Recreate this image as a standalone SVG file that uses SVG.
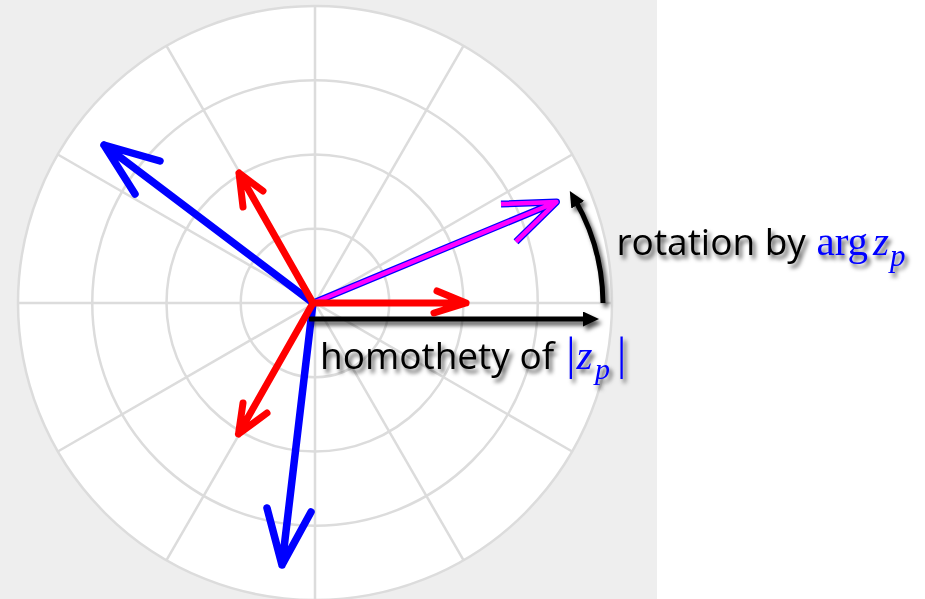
<svg xmlns="http://www.w3.org/2000/svg" width="925" height="599" viewBox="0 0 925 599">
<defs>
<style>
.grid{fill:none;stroke:#dcdcdc;stroke-width:2.5}
.disc{fill:#ffffff;stroke:#dcdcdc;stroke-width:2.5}
.vec{fill:none;stroke-linecap:round;stroke-linejoin:round;stroke-width:7}
.red{stroke:#ff0000}
.blue{stroke:#0000ff;stroke-width:7.5}
.blk{fill:none;stroke:#000;stroke-width:5}
.lbl{font-family:"Open Sans","Liberation Sans",sans-serif;font-size:37px;fill:#000}
.math{font-family:"Liberation Serif","Times New Roman",serif;fill:#0000ff}
</style>
<filter id="shadow" x="-10%" y="-20%" width="130%" height="160%">
<feDropShadow dx="3" dy="4" stdDeviation="2.2" flood-color="#000" flood-opacity="0.65"/>
</filter>
<marker id="tri" markerUnits="userSpaceOnUse" markerWidth="18" markerHeight="16" refX="6" refY="7.5" orient="auto">
<path d="M0,0 L16,7.5 L0,15 z" fill="#000"/>
</marker>
</defs>
<rect x="0" y="0" width="925" height="599" fill="#ffffff"/>
<rect x="0" y="0" width="657" height="599" fill="#eeeeee"/>
<g id="grid">
<circle cx="315" cy="303" r="297" class="disc"/>
<circle cx="315" cy="303" r="222.75" class="grid"/>
<circle cx="315" cy="303" r="148.5" class="grid"/>
<circle cx="315" cy="303" r="74.25" class="grid"/>
<g class="grid">
<line x1="18" y1="303" x2="612" y2="303"/>
<line x1="315" y1="6" x2="315" y2="600"/>
<line x1="57.8" y1="154.5" x2="572.2" y2="451.5"/>
<line x1="57.8" y1="451.5" x2="572.2" y2="154.5"/>
<line x1="166.5" y1="45.8" x2="463.5" y2="560.2"/>
<line x1="166.5" y1="560.2" x2="463.5" y2="45.8"/>
</g>
</g>
<g id="connectors">
<g id="vec-blue-1"><path class="vec blue" d="M313,303 L104,145 M160,161 L104,145 L135,194"/></g>
<g id="vec-blue-2"><path class="vec blue" d="M313,303 L282,565 M267,508 L282,565 L311,512"/></g>
<g id="vec-magenta">
<path d="M313,303 L556.5,202 M501,204 L556.5,202 L516,241.7" fill="none" stroke="#0000ff" stroke-width="7" stroke-linejoin="round"/>
<path d="M313,303 L556.5,202 M501,204 L556.5,202 L516,241.7" fill="none" stroke="#ff00ff" stroke-width="4.5" stroke-linejoin="round"/>
</g>
<g id="black-arrows" filter="url(#shadow)">
<path class="blk" d="M309,319 L589,319" marker-end="url(#tri)"/>
<path class="blk" d="M603,303 A210,210 0 0 0 574.8,199.6" marker-end="url(#tri)"/>
</g>
<g id="vec-red-1"><path class="vec red" d="M313,303 L239,173 M263,191 L239,173 L243,207"/></g>
<g id="vec-red-2"><path class="vec red" d="M313,303 L238.5,434 M243,403 L238.5,434 L267,413"/></g>
<g id="vec-red-3"><path class="vec red" d="M313,303 L466,303 M437,291 L466,303 L434,313"/></g>
</g>
<g id="label-rotation" filter="url(#shadow)">
<text class="lbl" x="616.5" y="255">rotation by</text>
<text class="math" x="816.5" y="255" font-size="41">arg</text>
<text class="math" x="873" y="255" font-size="41" font-style="italic">z</text>
<text class="math" x="890" y="266" font-size="31" font-style="italic">p</text>
</g>
<g id="label-homothety" filter="url(#shadow)">
<text class="lbl" x="320" y="369">homothety of</text>
<text class="math" x="566.2" y="369" font-size="46">|</text>
<text class="math" x="576.5" y="369" font-size="41" font-style="italic">z</text>
<text class="math" x="595" y="379" font-size="30" font-style="italic">p</text>
<text class="math" x="617" y="369" font-size="46">|</text>
</g>
</svg>
